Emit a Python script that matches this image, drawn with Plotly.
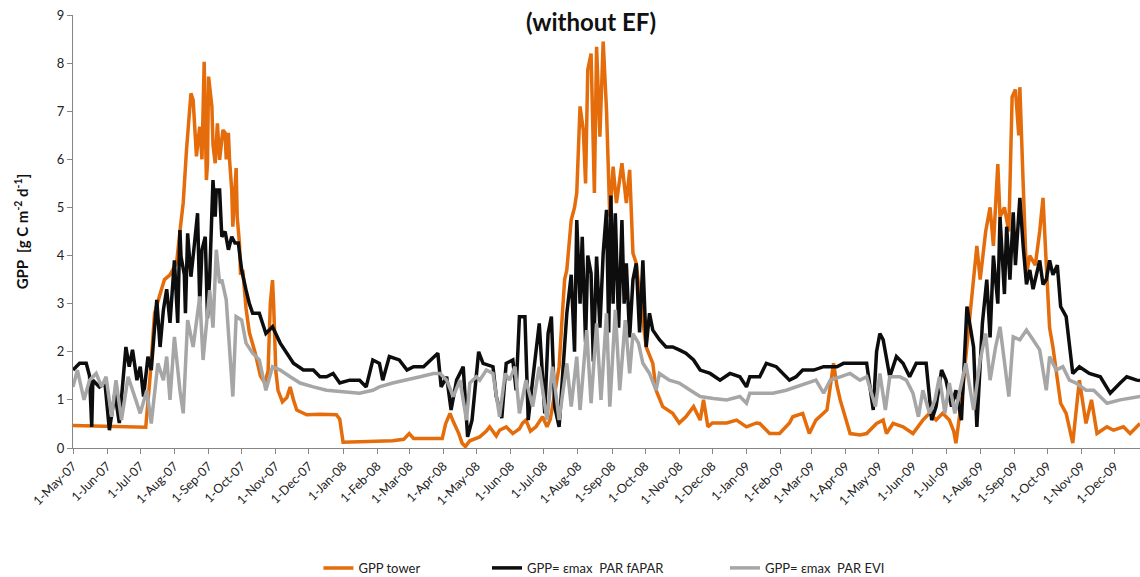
import pandas as pd
import plotly.graph_objects as go

# Daily GPP record, May 2007 - Dec 2009 (day 0 = 1 May 2007)
START = "2007-05-01"

tower_day = [0, 30, 60, 66, 70, 74, 79, 83, 88, 94, 97, 100, 103, 107, 109, 110, 112, 113, 115, 117,
             119, 121, 122, 123, 126, 127, 129, 131, 132, 133, 136, 138, 139, 141, 142, 144, 145, 148,
             149, 151, 152, 154, 157, 160, 165, 170, 174, 177, 179, 181, 182, 184, 186, 190, 194, 197,
             200, 203, 212, 224, 239, 242, 245, 260, 275, 290, 300, 305, 309, 320, 335, 338, 342, 345,
             350, 353, 356, 360, 366, 369, 375, 378, 384, 387, 393, 399, 405, 408, 411, 415, 420, 426,
             430, 433, 435, 441, 444, 446, 448, 452, 455, 457, 460, 463, 465, 467, 470, 473, 475, 478,
             481, 484, 487, 490, 493, 498, 502, 505, 508, 511, 514, 517, 520, 526, 529, 535, 544, 550,
             556, 563, 569, 572, 576, 580, 593, 602, 611, 620, 623, 632, 641, 650, 653, 662, 668, 674,
             681, 684, 690, 693, 696, 705, 714, 720, 729, 735, 738, 744, 753, 762, 771, 777, 783, 789,
             795, 799, 801, 804, 807, 810, 813, 818, 820, 823, 828, 832, 835, 839, 841, 845, 849, 852,
             855, 858, 859, 862, 865, 868, 873, 877, 880, 883, 886, 889, 896, 901, 907, 913, 919, 924,
             929, 938, 944, 953, 959, 968]
tower_gpp = [0.47, 0.46, 0.45, 0.43, 1.5, 2.8, 3.2, 3.5, 3.6, 3.85, 4.5, 5.1, 6.2, 7.37, 7.23, 6.8, 6.06,
             6.3, 6.68, 6.0, 8.03, 5.57, 5.9, 7.72, 7.1, 6.3, 5.92, 6.75, 6.2, 5.99, 6.61, 6.55, 6.0, 6.55,
             6.0, 5.36, 4.6, 5.82, 4.8, 4.26, 3.6, 3.7, 2.9, 2.4, 2.0, 1.5, 1.35, 1.6, 3.0, 3.49, 3.0, 1.6,
             1.2, 0.96, 1.05, 1.27, 1.0, 0.79, 0.69, 0.7, 0.69, 0.6, 0.12, 0.13, 0.15, 0.15, 0.18, 0.3, 0.2,
             0.2, 0.2, 0.5, 0.72, 0.55, 0.3, 0.1, 0.03, 0.15, 0.2, 0.23, 0.35, 0.44, 0.25, 0.37, 0.44, 0.3,
             0.4, 0.52, 0.58, 0.35, 0.44, 0.65, 0.44, 0.6, 0.86, 1.69, 2.8, 3.5, 3.7, 4.74, 5.0, 5.3, 7.1,
             6.6, 5.5, 7.86, 8.2, 5.3, 8.34, 6.47, 8.45, 7.03, 4.81, 5.85, 5.09, 5.92, 5.09, 5.78, 4.05,
             3.84, 3.2, 2.6, 2.1, 1.76, 1.2, 0.86, 0.72, 0.52, 0.65, 0.86, 0.58, 1.0, 0.44, 0.52, 0.52,
             0.58, 0.44, 0.52, 0.51, 0.3, 0.3, 0.52, 0.65, 0.72, 0.3, 0.58, 0.72, 0.79, 1.76, 1.3, 1.0,
             0.3, 0.27, 0.3, 0.51, 0.58, 0.3, 0.51, 0.44, 0.3, 0.58, 0.72, 0.58, 0.72, 0.58, 0.35, 0.1,
             0.6, 1.14, 1.9, 2.6, 3.6, 4.2, 3.5, 4.5, 5.0, 4.2, 5.9, 4.8, 5.0, 4.5, 7.3, 7.45, 6.5, 7.5,
             5.5, 3.6, 4.0, 3.8, 4.5, 5.2, 3.8, 2.5, 2.1, 0.93, 0.72, 0.1, 1.41, 0.51, 1.0, 0.3, 0.44,
             0.37, 0.44, 0.3, 0.51]

fapar_day = [0, 6, 12, 15, 17, 18, 24, 29, 33, 38, 42, 48, 51, 54, 58, 61, 64, 68, 71, 76, 79, 82, 85,
             88, 92, 94, 95, 97, 98, 101, 102, 104, 107, 110, 113, 115, 117, 120, 122, 124, 127, 129, 130,
             133, 135, 138, 141, 144, 147, 150, 153, 157, 160, 163, 169, 175, 181, 188, 194, 200, 209, 218,
             224, 230, 236, 242, 251, 260, 266, 272, 278, 281, 287, 296, 303, 309, 318, 327, 331, 334, 339,
             343, 348, 354, 358, 362, 368, 372, 381, 384, 389, 393, 399, 402, 405, 410, 413, 417, 423, 428,
             431, 434, 437, 441, 448, 452, 455, 457, 460, 462, 465, 467, 470, 472, 475, 478, 481, 484, 486,
             488, 490, 492, 495, 498, 500, 502, 505, 508, 511, 514, 517, 520, 523, 526, 532, 538, 544, 550,
             556, 563, 569, 578, 587, 596, 605, 611, 614, 623, 629, 638, 644, 650, 656, 662, 672, 681, 693,
             699, 711, 720, 726, 729, 732, 735, 741, 747, 753, 759, 765, 774, 779, 783, 788, 792, 797, 801,
             806, 811, 817, 820, 825, 829, 832, 835, 839, 841, 845, 847, 850, 853, 855, 859, 862, 865, 868,
             871, 875, 877, 880, 883, 886, 889, 893, 896, 901, 904, 907, 913, 922, 932, 941, 950, 956, 965,
             968]
fapar_gpp = [1.62, 1.76, 1.76, 1.5, 0.44, 1.41, 1.27, 1.35, 0.37, 1.14, 0.52, 2.1, 1.69, 2.04, 1.41, 1.69,
             1.07, 1.9, 1.62, 3.08, 2.1, 2.87, 3.3, 2.6, 3.9, 3.2, 2.6, 4.53, 3.98, 3.6, 2.8, 4.46, 3.56,
             4.2, 4.88, 3.0, 4.12, 4.39, 2.7, 3.56, 5.57, 4.81, 5.36, 5.36, 4.39, 4.5, 4.12, 4.39, 4.26,
             4.26, 3.7, 3.28, 3.0, 2.8, 2.8, 2.38, 2.52, 2.18, 1.97, 1.76, 1.62, 1.62, 1.48, 1.48, 1.55,
             1.35, 1.41, 1.41, 1.27, 1.83, 1.76, 1.41, 1.9, 1.83, 1.62, 1.69, 1.69, 1.9, 1.97, 1.27, 1.48,
             0.79, 1.41, 1.69, 0.23, 0.58, 2.0, 1.76, 1.69, 1.07, 0.62, 1.76, 1.83, 1.2, 2.73, 2.73, 0.58,
             1.41, 2.59, 0.72, 2.38, 2.73, 0.86, 0.44, 2.8, 3.6, 2.0, 4.74, 3.0, 4.39, 2.2, 4.0, 3.63, 1.8,
             3.98, 2.5, 4.05, 4.95, 2.4, 5.25, 3.0, 4.88, 2.5, 4.74, 3.0, 3.84, 2.3, 3.5, 3.84, 2.4, 3.9,
             2.1, 2.8, 2.45, 2.25, 2.1, 2.1, 2.04, 1.97, 1.83, 1.62, 1.55, 1.41, 1.55, 1.48, 1.27, 1.48,
             1.48, 1.76, 1.69, 1.55, 1.41, 1.48, 1.62, 1.62, 1.69, 1.69, 1.76, 1.76, 1.76, 0.79, 2.0, 2.38,
             2.25, 1.48, 1.9, 1.76, 1.48, 1.76, 1.76, 0.58, 0.86, 1.62, 1.41, 0.86, 1.2, 0.58, 2.94, 2.1,
             0.44, 2.59, 3.5, 2.3, 4.0, 3.0, 4.8, 3.2, 4.6, 3.5, 4.9, 3.8, 5.2, 4.2, 3.4, 3.7, 3.3, 3.7,
             3.9, 3.4, 3.5, 3.9, 3.6, 3.8, 2.94, 2.73, 2.2, 1.55, 1.69, 1.55, 1.48, 1.14, 1.35, 1.48, 1.41,
             1.4]

evi_day = [0, 4, 10, 15, 21, 26, 30, 35, 39, 44, 50, 54, 61, 67, 71, 77, 82, 85, 88, 92, 97, 100, 104,
           109, 115, 118, 124, 127, 130, 133, 135, 139, 142, 145, 148, 153, 157, 163, 169, 175, 181, 188,
           197, 206, 218, 230, 245, 260, 272, 278, 290, 303, 315, 327, 333, 339, 345, 351, 357, 360, 366,
           369, 375, 381, 387, 392, 396, 401, 405, 411, 417, 423, 430, 435, 441, 448, 452, 457, 460, 466,
           470, 475, 479, 484, 487, 492, 496, 501, 505, 508, 513, 517, 523, 529, 532, 541, 550, 560, 569,
           581, 593, 605, 611, 614, 623, 635, 647, 656, 665, 674, 681, 687, 696, 705, 714, 720, 728, 732,
           737, 741, 750, 756, 762, 767, 771, 777, 782, 786, 791, 795, 800, 804, 810, 817, 823, 828, 832,
           837, 841, 849, 853, 859, 865, 871, 877, 883, 886, 892, 898, 904, 910, 919, 926, 938, 950, 968]
evi_gpp = [1.27, 1.62, 1.0, 1.41, 1.55, 1.27, 1.48, 0.65, 1.41, 0.58, 1.48, 1.2, 0.72, 1.2, 0.51, 1.76,
           1.41, 1.9, 1.0, 2.31, 1.2, 0.72, 2.66, 2.1, 3.15, 1.83, 3.28, 2.5, 4.12, 3.43, 3.5, 3.08, 1.97,
           1.07, 2.73, 2.66, 2.18, 1.97, 1.83, 1.2, 1.69, 1.62, 1.48, 1.35, 1.27, 1.2, 1.17, 1.14, 1.2,
           1.27, 1.35, 1.41, 1.48, 1.55, 1.55, 1.41, 1.07, 1.41, 0.58, 1.35, 1.48, 1.41, 1.62, 1.55, 0.65,
           1.55, 1.41, 1.69, 0.72, 1.41, 0.86, 1.69, 0.58, 1.69, 0.58, 1.76, 0.86, 1.9, 0.79, 2.45, 0.93,
           2.59, 1.0, 2.8, 0.86, 2.87, 1.2, 2.66, 1.55, 2.38, 2.18, 1.76, 1.55, 1.2, 1.55, 1.41, 1.35, 1.2,
           1.07, 1.03, 1.0, 1.07, 0.93, 1.14, 1.14, 1.14, 1.2, 1.27, 1.35, 1.41, 1.14, 1.41, 1.48, 1.55,
           1.41, 1.48, 0.86, 1.55, 0.79, 1.48, 1.48, 1.41, 1.14, 0.65, 1.2, 0.72, 1.0, 1.48, 0.72, 1.35,
           0.72, 1.14, 1.76, 0.79, 1.83, 2.38, 1.41, 2.1, 2.52, 1.07, 2.31, 2.25, 2.45, 2.25, 2.04, 1.2,
           1.9, 1.62, 1.69, 1.41, 1.35, 1.2, 1.2, 0.93, 1.0, 1.07]

SERIES_NAMES = ["GPP tower", "GPP= εmax  PAR fAPAR", "GPP= εmax  PAR EVI"]
SERIES_COLORS = ["#E46C0A", "#0D0D0D", "#A6A6A6"]
FONT = "Lato, 'Open Sans', sans-serif"


def to_dates(days):
    return pd.Timestamp(START) + pd.to_timedelta(days, unit="D")


fig = go.Figure()
series = [(tower_day, tower_gpp), (fapar_day, fapar_gpp), (evi_day, evi_gpp)]
legend_ids = ["legend", "legend2", "legend3"]
for (d, v), name, color, lg in zip(series, SERIES_NAMES, SERIES_COLORS, legend_ids):
    fig.add_trace(go.Scatter(
        x=to_dates(d), y=v, mode="lines", name=name,
        line=dict(color=color, width=3.5), legend=lg,
    ))

legend_style = dict(orientation="h", yanchor="middle", y=-0.277, xanchor="left",
                    font=dict(family=FONT, size=13, color="#222222"),
                    bgcolor="rgba(0,0,0,0)", itemwidth=30)

fig.update_layout(
    width=1140, height=577,
    margin=dict(l=73, r=0, t=15, b=129, autoexpand=False),
    paper_bgcolor="white", plot_bgcolor="white",
    font=dict(family=FONT, color="#222222"),
    showlegend=True,
    legend=dict(legend_style, x=0.230),
    legend2=dict(legend_style, x=0.388),
    legend3=dict(legend_style, x=0.611),
    xaxis=dict(
        type="date", range=[pd.Timestamp(START), to_dates([968])[0]],
        tick0=START, dtick="M1", tickformat="%-d-%b-%y", tickangle=-45,
        ticks="outside", ticklen=5, tickcolor="#868686",
        showline=True, linecolor="#868686", linewidth=1,
        showgrid=False, zeroline=False, automargin=False,
        tickfont=dict(family=FONT, size=12.5, color="#222222"),
    ),
    yaxis=dict(
        range=[0, 9], dtick=1, ticks="outside", ticklen=5, tickcolor="#868686",
        showline=True, linecolor="#868686", linewidth=1,
        showgrid=False, zeroline=False, automargin=False,
        tickfont=dict(family=FONT, size=13, color="#222222"),
        title=dict(text="<b>GPP  [g C m<sup>-2</sup> d<sup>-1</sup>]</b>",
                   font=dict(family=FONT, size=15, color="#111111"), standoff=24),
    ),
)

fig.add_annotation(
    text="<b>(without EF)</b>", xref="paper", yref="paper",
    x=(591 - 73) / 1067, y=1.0, yshift=-6, xanchor="center", yanchor="middle",
    showarrow=False, font=dict(family=FONT, size=24, color="#111111"),
)

fig.write_html("out.html")
